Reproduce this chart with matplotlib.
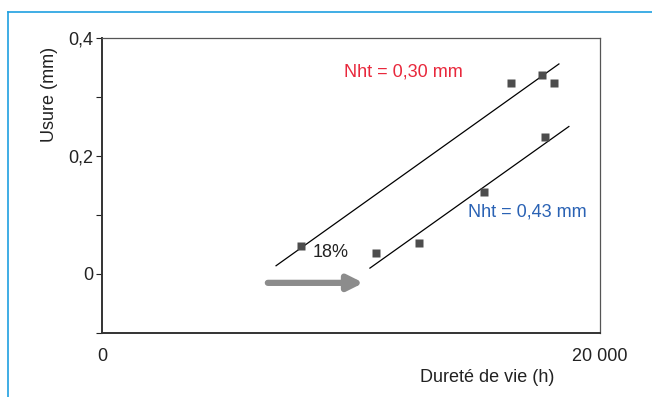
import numpy as np
import matplotlib.pyplot as plt
from matplotlib.lines import Line2D

plt.rcParams['font.family'] = ['Liberation Sans', 'DejaVu Sans']

# measured points: life (h) vs wear (mm)
life_h = [7990, 11000, 12730, 15340, 16430, 17670, 17790, 18150]
wear_mm = [0.047, 0.036, 0.053, 0.139, 0.324, 0.337, 0.232, 0.324]

# two parallel trend lines
line_a_x = [6990, 18350]
line_a_y = [0.014, 0.356]
line_b_x = [10760, 18750]
line_b_y = [0.010, 0.250]

y_ticks = [-0.1, 0.0, 0.1, 0.2, 0.3, 0.4]
y_labels = ["", "0", "", "0,2", "", "0,4"]

fs = 13

fig = plt.figure(figsize=(6.52, 3.97), dpi=100)
ax = fig.add_axes([102 / 652, 64 / 397, 498 / 652, 295 / 397])

# thin blue frame round the figure (left and top edges)
frame_c = "#1fa0e0"
fig.add_artist(Line2D([8 / 652, 8 / 652], [0, 1 - 12 / 397], color=frame_c, lw=1.2))
fig.add_artist(Line2D([8 / 652, 1], [1 - 12 / 397, 1 - 12 / 397], color=frame_c, lw=1.2))

ax.plot(line_a_x, line_a_y, color="black", lw=0.9)
ax.plot(line_b_x, line_b_y, color="black", lw=0.9)
ax.plot(life_h, wear_mm, "s", color="#4d4d4d", ms=5.5, mec="none")

ax.annotate("", xy=(10500, -0.015), xytext=(6660, -0.015),
            arrowprops=dict(arrowstyle="-|>,head_length=0.9,head_width=0.45",
                            color="#8c8c8c", lw=4.5, shrinkA=0, shrinkB=0))

ax.text(8450, 0.037, "18%", fontsize=fs, color="#222222", va="center")
ax.text(12100, 0.342, "Nht = 0,30 mm", fontsize=fs, color="#e8283c",
        ha="center", va="center")
ax.text(17070, 0.105, "Nht = 0,43 mm", fontsize=fs, color="#2a62b4",
        ha="center", va="center")

ax.set_xlim(0, 20000)
ax.set_ylim(-0.1, 0.4)
ax.set_yticks(y_ticks)
ax.set_yticklabels(y_labels)
ax.set_xticks([0, 20000])
ax.set_xticklabels(["0", "20 000"])
ax.tick_params(axis="y", length=4, width=0.8, pad=2, labelsize=fs, colors="#222222")
ax.tick_params(axis="x", length=0, pad=11, labelsize=fs, colors="#222222")

for side in ["left", "bottom"]:
    ax.spines[side].set_linewidth(1.4)
    ax.spines[side].set_color("#333333")
for side in ["right", "top"]:
    ax.spines[side].set_linewidth(0.9)
    ax.spines[side].set_color("#555555")

fig.text(49 / 652, 1 - 94 / 397, "Usure (mm)", rotation=90, fontsize=fs,
         color="#222222", ha="center", va="center")
fig.text(487 / 652, 1 - 377 / 397, "Dureté de vie (h)", fontsize=fs,
         color="#222222", ha="center", va="center")

fig.savefig("out.png", dpi=100)
